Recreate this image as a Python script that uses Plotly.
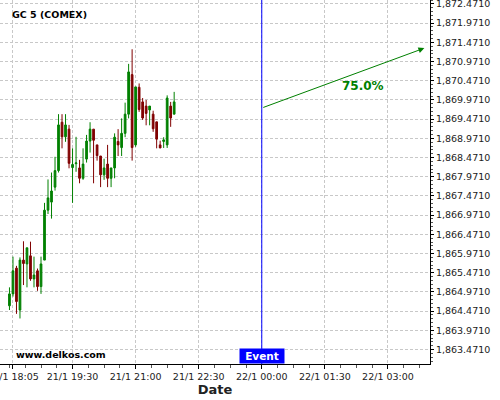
import plotly.graph_objects as go
import pandas as pd

# ---- data (5-minute candles, GC 5 COMEX, starting 21/1 18:00) ----
start_time = "2021-01-21 18:00"
opens = [1864.61, 1864.92, 1865.59, 1864.50, 1865.80, 1865.70, 1865.91, 1865.31, 1865.52, 1865.11,
         1865.80, 1867.10, 1867.31, 1867.70, 1868.13, 1869.39, 1869.01, 1869.21, 1868.21, 1868.31,
         1868.20, 1867.93, 1868.43, 1868.90, 1869.21, 1868.80, 1868.51, 1868.02, 1868.30, 1867.93,
         1868.20, 1868.89, 1868.73, 1869.10, 1869.60, 1870.63, 1868.80, 1870.30, 1869.92, 1869.81,
         1869.71, 1869.60, 1869.40, 1868.80, 1868.89, 1868.80, 1869.81, 1869.60]
highs = [1865.09, 1865.89, 1865.65, 1865.87, 1866.29, 1866.12, 1866.28, 1865.89, 1865.58, 1865.89,
         1867.29, 1867.90, 1868.08, 1868.49, 1869.60, 1869.60, 1869.60, 1869.32, 1868.71, 1869.01,
         1868.41, 1868.71, 1869.06, 1869.39, 1869.21, 1868.80, 1868.51, 1868.44, 1868.80, 1868.20,
         1869.10, 1869.21, 1869.49, 1869.90, 1870.91, 1871.29, 1870.31, 1870.40, 1870.02, 1869.97,
         1869.81, 1869.69, 1869.40, 1868.91, 1869.00, 1870.09, 1869.92, 1870.18]
lows = [1864.50, 1864.85, 1864.40, 1864.28, 1865.15, 1865.09, 1865.26, 1865.09, 1865.00, 1864.92,
        1865.80, 1867.00, 1866.88, 1867.61, 1868.08, 1868.71, 1868.88, 1868.19, 1867.29, 1868.10,
        1867.80, 1867.89, 1868.34, 1868.60, 1867.80, 1868.39, 1867.70, 1867.89, 1867.70, 1867.70,
        1867.93, 1868.51, 1868.51, 1869.00, 1869.49, 1868.39, 1868.75, 1869.66, 1869.45, 1869.31,
        1869.31, 1869.14, 1868.71, 1868.72, 1868.72, 1868.72, 1869.27, 1869.60]
closes = [1864.92, 1865.52, 1864.72, 1865.80, 1865.71, 1866.12, 1865.31, 1865.41, 1865.11, 1865.70,
          1867.10, 1867.42, 1867.60, 1868.13, 1869.32, 1869.01, 1869.32, 1868.32, 1868.29, 1868.33,
          1867.93, 1868.30, 1868.90, 1869.21, 1868.92, 1868.52, 1868.02, 1868.20, 1867.93, 1868.20,
          1869.00, 1868.80, 1869.10, 1869.60, 1870.70, 1868.73, 1870.31, 1869.72, 1869.50, 1869.62,
          1869.81, 1869.22, 1868.95, 1868.72, 1868.93, 1870.02, 1869.50, 1869.92]

tick_times = ["2021-01-21 18:05", "2021-01-21 19:30", "2021-01-21 21:00", "2021-01-21 22:30",
              "2021-01-22 00:00", "2021-01-22 01:30", "2021-01-22 03:00"]
tick_labels = ["21/1 18:05", "21/1 19:30", "21/1 21:00", "21/1 22:30",
               "22/1 00:00", "22/1 01:30", "22/1 03:00"]

event_time = "2021-01-22 00:00"
arrow_start = ("2021-01-22 00:00", 1869.76)
arrow_end = ("2021-01-22 03:52", 1871.32)
prob_label = "75.0%"
prob_pos = ("2021-01-22 02:25", 1870.33)

x_range = ["2021-01-21 17:46:30", "2021-01-22 04:00"]
y_range = [1863.094, 1872.573]

times = pd.date_range(start_time, periods=len(opens), freq="5min")

GREEN = "rgb(0,128,0)"
RED = "rgb(128,0,0)"
FONT = "DejaVu Sans"

fig = go.Figure()
fig.add_trace(go.Candlestick(
    x=times, open=opens, high=highs, low=lows, close=closes,
    increasing=dict(line=dict(color=GREEN, width=1), fillcolor=GREEN),
    decreasing=dict(line=dict(color=RED, width=1), fillcolor=RED),
    whiskerwidth=0, showlegend=False, hoverinfo="skip",
))

# event line
fig.add_shape(type="line", xref="x", yref="paper", x0=event_time, x1=event_time, y0=0, y1=1,
              line=dict(color="rgb(0,0,255)", width=1))

# forecast arrow
fig.add_annotation(x=arrow_end[0], y=arrow_end[1], ax=arrow_start[0], ay=arrow_start[1],
                   xref="x", yref="y", axref="x", ayref="y", text="", showarrow=True,
                   arrowhead=2, arrowsize=1.2, arrowwidth=1, arrowcolor=GREEN)
fig.add_annotation(x=prob_pos[0], y=prob_pos[1], xref="x", yref="y", text="<b>%s</b>" % prob_label,
                   showarrow=False, font=dict(family=FONT, size=12, color=GREEN))

# event label
fig.add_annotation(x=event_time, y=0, xref="x", yref="paper", text="<b>Event</b>", showarrow=False,
                   yanchor="bottom", xanchor="center", bgcolor="rgb(0,0,255)",
                   font=dict(family=FONT, size=10.5, color="white"), borderpad=1, width=42)

fig.add_annotation(x=10 / 430, y=1 - 15 / 364, xref="paper", yref="paper", text="<b>GC 5 (COMEX)</b>",
                   showarrow=False, xanchor="left", yanchor="middle",
                   font=dict(family=FONT, size=9.5, color="black"))
fig.add_annotation(x=14 / 430, y=10 / 364, xref="paper", yref="paper", text="<b>www.delkos.com</b>",
                   showarrow=False, xanchor="left", yanchor="middle",
                   font=dict(family=FONT, size=9.5, color="black"))

fig.update_layout(
    width=500, height=400,
    margin=dict(l=0, r=70, t=0, b=36, autoexpand=False),
    paper_bgcolor="white", plot_bgcolor="white",
    font=dict(family=FONT, size=10, color="#222"),
    xaxis=dict(
        range=x_range, rangeslider=dict(visible=False), automargin=False,
        tickvals=tick_times, ticktext=tick_labels, ticklabeloverflow="allow",
        showgrid=True, gridcolor="#c8c8c8", griddash="3px,2px", gridwidth=1,
        showline=True, linecolor="black", linewidth=1,
        ticks="outside", ticklen=4, tickcolor="black",
        minor=dict(tick0="2021-01-22 00:00", dtick=1350000, ticks="outside", ticklen=3,
                   tickcolor="#555", showgrid=False),
        tickfont=dict(family=FONT, size=9.5, color="#222"),
        title=dict(text="<b>Date</b>", font=dict(family=FONT, size=13, color="#222"), standoff=2),
        zeroline=False,
    ),
    yaxis=dict(
        range=y_range, side="right", automargin=False, ticklabeloverflow="allow",
        tick0=1863.471, dtick=0.5, tickformat=",.4f",
        showgrid=True, gridcolor="#c8c8c8", griddash="3px,2px", gridwidth=1,
        showline=True, linecolor="black", linewidth=1,
        ticks="outside", ticklen=3, tickcolor="black",
        minor=dict(dtick=0.1, tick0=1863.471, ticks="outside", ticklen=2, tickcolor="#555", showgrid=False),
        tickfont=dict(family=FONT, size=9.5, color="#222"),
        zeroline=False,
    ),
)

fig.write_html("out.html", config={"displayModeBar": False},
               post_script="document.body.style.margin='0';")
